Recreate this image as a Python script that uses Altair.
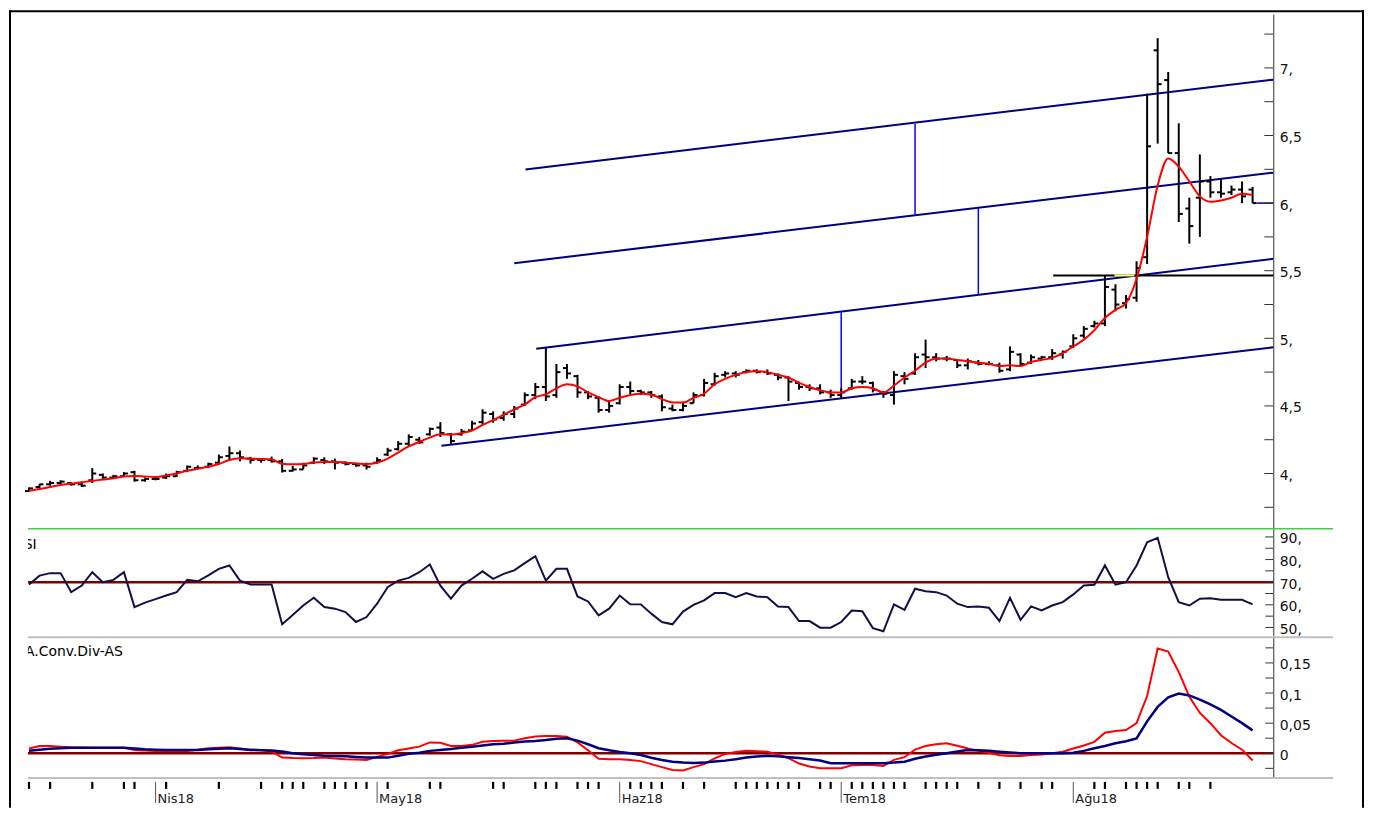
import altair as alt
import pandas as pd

# ---------------- data ----------------
OPEN = [3.87, 3.90, 3.92, 3.93, 3.93, 3.92, 3.95, 3.99, 3.97, 3.98,
        4.01, 3.95, 3.96, 3.97, 3.98, 4.02, 4.04, 4.05, 4.08, 4.13,
        4.15, 4.11, 4.10, 4.10, 4.09, 4.02, 4.03, 4.08, 4.10, 4.09,
        4.08, 4.07, 4.06, 4.08, 4.14, 4.18, 4.22, 4.25, 4.29, 4.34,
        4.29, 4.29, 4.32, 4.38, 4.44, 4.41, 4.44, 4.51, 4.58, 4.64,
        4.58, 4.78, 4.72, 4.60, 4.56, 4.47, 4.52, 4.64, 4.61, 4.60,
        4.57, 4.48, 4.47, 4.52, 4.58, 4.66, 4.73, 4.74, 4.75, 4.76,
        4.75, 4.73, 4.71, 4.67, 4.64, 4.63, 4.60, 4.58, 4.63, 4.68,
        4.67, 4.60, 4.58, 4.72, 4.74, 4.88, 4.86, 4.85, 4.84, 4.80,
        4.82, 4.81, 4.80, 4.77, 4.88, 4.82, 4.85, 4.86, 4.88, 4.94,
        5.02, 5.09, 5.11, 5.36, 5.26, 5.30, 5.60, 7.13, 6.91, 6.37,
        5.96, 6.04, 6.16, 6.08, 6.08, 6.10, 6.10]
HIGH = [3.897, 3.924, 3.946, 3.95, 3.935, 3.94, 4.04, 4.00, 3.99, 4.01,
        4.02, 3.97, 3.98, 4.00, 4.02, 4.06, 4.06, 4.08, 4.14, 4.20,
        4.17, 4.123, 4.11, 4.125, 4.108, 4.057, 4.08, 4.12, 4.12, 4.11,
        4.09, 4.08, 4.08, 4.12, 4.19, 4.24, 4.29, 4.27, 4.34, 4.38,
        4.30, 4.33, 4.39, 4.475, 4.46, 4.46, 4.50, 4.60, 4.67, 4.93,
        4.81, 4.81, 4.73, 4.61, 4.57, 4.536, 4.66, 4.68, 4.62, 4.61,
        4.585, 4.51, 4.53, 4.60, 4.70, 4.745, 4.757, 4.757, 4.77, 4.77,
        4.77, 4.74, 4.72, 4.68, 4.66, 4.66, 4.62, 4.63, 4.70, 4.72,
        4.68, 4.61, 4.757, 4.75, 4.89, 4.99, 4.89, 4.87, 4.84, 4.85,
        4.84, 4.83, 4.82, 4.94, 4.89, 4.88, 4.87, 4.92, 4.91, 5.03,
        5.09, 5.13, 5.46, 5.40, 5.32, 5.57, 6.81, 7.22, 6.97, 6.59,
        6.04, 6.36, 6.20, 6.18, 6.13, 6.16, 6.12]
LOW = [3.867, 3.894, 3.91, 3.92, 3.91, 3.90, 3.93, 3.96, 3.965, 3.975,
       3.94, 3.94, 3.95, 3.96, 3.975, 4.01, 4.03, 4.04, 4.07, 4.10,
       4.09, 4.074, 4.08, 4.08, 4.007, 4.015, 4.03, 4.07, 4.07, 4.03,
       4.06, 4.05, 4.03, 4.07, 4.13, 4.17, 4.20, 4.22, 4.28, 4.27,
       4.22, 4.28, 4.315, 4.36, 4.376, 4.39, 4.41, 4.50, 4.55, 4.536,
       4.56, 4.70, 4.56, 4.55, 4.45, 4.45, 4.51, 4.585, 4.58, 4.56,
       4.46, 4.46, 4.46, 4.52, 4.57, 4.65, 4.71, 4.71, 4.74, 4.74,
       4.73, 4.69, 4.536, 4.62, 4.61, 4.585, 4.56, 4.56, 4.62, 4.66,
       4.60, 4.56, 4.51, 4.66, 4.73, 4.78, 4.83, 4.83, 4.78, 4.77,
       4.80, 4.80, 4.745, 4.757, 4.79, 4.81, 4.84, 4.84, 4.85, 4.93,
       5.00, 5.08, 5.09, 5.20, 5.22, 5.27, 5.55, 6.44, 6.37, 5.86,
       5.70, 5.75, 6.04, 6.04, 6.06, 6.00, 6.00]
CLOSE = [3.89, 3.92, 3.93, 3.94, 3.92, 3.91, 4.00, 3.97, 3.98, 4.00,
         3.95, 3.96, 3.96, 3.98, 4.01, 4.05, 4.04, 4.07, 4.12, 4.15,
         4.12, 4.10, 4.10, 4.09, 4.02, 4.03, 4.06, 4.11, 4.09, 4.08,
         4.07, 4.06, 4.05, 4.10, 4.17, 4.22, 4.27, 4.23, 4.33, 4.30,
         4.24, 4.31, 4.37, 4.45, 4.40, 4.44, 4.48, 4.58, 4.64, 4.57,
         4.75, 4.74, 4.60, 4.57, 4.47, 4.50, 4.64, 4.61, 4.60, 4.58,
         4.49, 4.47, 4.50, 4.58, 4.67, 4.72, 4.74, 4.73, 4.76, 4.75,
         4.74, 4.71, 4.68, 4.64, 4.63, 4.60, 4.58, 4.60, 4.68, 4.68,
         4.62, 4.59, 4.73, 4.70, 4.86, 4.86, 4.85, 4.85, 4.80, 4.83,
         4.81, 4.81, 4.76, 4.90, 4.81, 4.86, 4.86, 4.89, 4.90, 5.00,
         5.07, 5.11, 5.38, 5.25, 5.29, 5.52, 6.42, 6.88, 6.37, 5.92,
         5.83, 6.16, 6.08, 6.07, 6.10, 6.05, 6.00]
MA = [3.872, 3.885, 3.90, 3.915, 3.925, 3.935, 3.946, 3.955, 3.965, 3.978,
      3.982, 3.978, 3.975, 3.985, 4.00, 4.02, 4.035, 4.05, 4.07, 4.10,
      4.112, 4.11, 4.108, 4.105, 4.072, 4.068, 4.07, 4.082, 4.086, 4.086,
      4.08, 4.075, 4.07, 4.08, 4.11, 4.155, 4.20, 4.235, 4.265, 4.29,
      4.288, 4.298, 4.318, 4.36, 4.395, 4.435, 4.475, 4.51, 4.565, 4.585,
      4.63, 4.66, 4.645, 4.60, 4.565, 4.536, 4.56, 4.58, 4.59, 4.583,
      4.55, 4.526, 4.525, 4.56, 4.59, 4.66, 4.70, 4.73, 4.75, 4.757,
      4.75, 4.73, 4.71, 4.67, 4.64, 4.615, 4.60, 4.60, 4.63, 4.64,
      4.63, 4.60, 4.65, 4.71, 4.76, 4.82, 4.85, 4.85, 4.84, 4.83,
      4.82, 4.81, 4.795, 4.80, 4.795, 4.825, 4.84, 4.855, 4.89, 4.94,
      4.99, 5.06, 5.15, 5.21, 5.26, 5.44, 5.75, 6.13, 6.33, 6.27,
      6.16, 6.05, 6.01, 6.02, 6.04, 6.07, 6.06]
RSI = [69, 72.9, 74, 74, 65.6, 68.5, 74.4, 70, 71, 74.4,
       59, 61, 62.5, 64.1, 65.6, 71, 70.4, 73, 75.9, 77.4,
       70.7, 69, 69, 69, 51.4, 55.5, 59.7, 63.1, 59, 58.3,
       56.8, 52.4, 54.6, 60.5, 67.8, 70.7, 71.9, 74.4, 77.8, 68.5,
       62.7, 68.5, 71.5, 74.8, 71.5, 73.7, 75.2, 78.4, 81.5, 70.7,
       75.9, 75.9, 63.7, 61.5, 55.3, 58.3, 64.1, 60.2, 60.2, 56.1,
       52.4, 51.4, 57.0, 60.0, 62.0, 65.2, 65.2, 63.4, 65.2, 63.7,
       63.4, 59.3, 59.0, 52.8, 52.8, 49.9, 49.9, 52.4, 57.5, 57.2,
       49.7, 48.3, 60.2, 57.8, 67.1, 66.0, 65.6, 64.1, 60.5, 59.0,
       59.3, 58.7, 52.8, 63.1, 53.4, 59.3, 57.5, 59.7, 61.2, 64.6,
       68.5, 68.9, 77.4, 68.9, 70, 77.4, 87.6, 89.6, 72.2, 61.2,
       59.7, 62.7, 62.9, 62.2, 62.2, 62.2, 60.2]
MACD = [0.008, 0.012, 0.012, 0.011, 0.010, 0.0095, 0.0093, 0.0093, 0.0093, 0.0093,
        0.0055, 0.0045, 0.0038, 0.0038, 0.0038, 0.0038, 0.006, 0.0083, 0.009, 0.010,
        0.008, 0.006, 0.0055, 0.003, -0.007, -0.008, -0.0083, -0.008, -0.0072, -0.0085,
        -0.010, -0.0105, -0.011, -0.006, -0.001, 0.005, 0.008, 0.011, 0.018, 0.0176,
        0.012, 0.012, 0.014, 0.019, 0.0205, 0.0207, 0.021, 0.025, 0.0278, 0.0285,
        0.0287, 0.0275, 0.018, 0.005, -0.009, -0.010, -0.010, -0.011, -0.013, -0.018,
        -0.023, -0.0276, -0.0285, -0.023, -0.018, -0.0085, -0.001, 0.002, 0.004, 0.0035,
        0.0027, -0.002, -0.008, -0.017, -0.022, -0.0248, -0.0248, -0.0248, -0.020, -0.0194,
        -0.0194, -0.021, -0.011, -0.0065, 0.006, 0.012, 0.015, 0.0166, 0.0125, 0.008,
        0.004, 0.001, -0.0035, -0.0045, -0.0045, -0.003, -0.002, 0.0, 0.0027, 0.008,
        0.013, 0.019, 0.034, 0.037, 0.0386, 0.050, 0.095, 0.174, 0.169, 0.135,
        0.094, 0.067, 0.050, 0.030, 0.017, 0.006, -0.012]
SIGNAL = [0.0043, 0.006, 0.0075, 0.0083, 0.009, 0.0093, 0.0093, 0.0093, 0.0093, 0.0093,
          0.008, 0.0066, 0.006, 0.0055, 0.0055, 0.0055, 0.0055, 0.0065, 0.0075, 0.0083,
          0.007, 0.0055, 0.005, 0.0045, 0.003, 0.0, -0.0017, -0.003, -0.004, -0.0045,
          -0.005, -0.006, -0.0072, -0.0072, -0.0072, -0.004, -0.001, 0.001, 0.004, 0.0055,
          0.007, 0.009, 0.011, 0.013, 0.0149, 0.016, 0.018, 0.0195, 0.0204, 0.022,
          0.024, 0.0248, 0.021, 0.015, 0.0083, 0.005, 0.002, 0.0, -0.003, -0.0075,
          -0.011, -0.014, -0.0155, -0.016, -0.0155, -0.0135, -0.0122, -0.010, -0.007, -0.0055,
          -0.004, -0.005, -0.0066, -0.008, -0.010, -0.012, -0.0166, -0.0166, -0.0166, -0.0166,
          -0.0166, -0.0166, -0.0155, -0.0139, -0.009, -0.0055, -0.0025, 0.0, 0.003, 0.0055,
          0.005, 0.004, 0.0027, 0.0015, 0.0, 0.0, 0.0, 0.0, 0.0, 0.001,
          0.004, 0.0083, 0.012, 0.0166, 0.020, 0.0248, 0.053, 0.077, 0.093, 0.099,
          0.096, 0.089, 0.081, 0.072, 0.061, 0.050, 0.038]

MONTH_IDX = [12, 33, 56, 77, 99]
MONTH_LABELS = ["Nis18", "May18", "Haz18", "Tem18", "Ağu18"]
DAY_TICKS = [0, 2, 6, 9, 10, 13, 18, 22, 24, 25, 26, 28, 29, 30, 31, 32, 34, 38, 39,
             44, 45, 48, 49, 50, 52, 53, 54, 57, 58, 59, 60, 62, 64, 67, 68, 69, 70,
             71, 72, 73, 75, 76, 78, 79, 80, 81, 82, 83, 85, 86, 87, 88, 90, 92, 94,
             96, 97, 101, 102, 104, 105, 106, 107, 109, 110, 112]

# channel lines (start bar, start value, end bar, end value)
CH_I0 = [47.07, 46.0, 48.08, 39.1]
CH_V0 = [6.249, 5.556, 4.922, 4.205]
CH_I1 = [117.96, 117.96, 117.96, 117.96]
CH_V1 = [6.913, 6.225, 5.588, 4.934]
# vertical connectors
CONN_I = [84, 90, 77]
CONN_TOP = [6.585, 5.965, 5.20]
CONN_BOT = [5.915, 5.323, 4.56]
# horizontal resistance line
HL_I0, HL_I1, HL_V = 97.1, 117.96, 5.465
YEL_I0, YEL_I1 = 102.9, 104.8
LAST_I0, LAST_V = 116.4, 6.0

PRICE_LABELS = [4, 4.5, 5, 5.5, 6, 6.5, 7]
PRICE_TICKS = [3.75, 4, 4.25, 4.5, 4.75, 5, 5.25, 5.5, 5.75, 6, 6.25, 6.5, 6.75, 7, 7.25]
RSI_LABELS = [50, 60, 70, 80, 90]
RSI_TICKS = [50, 55, 60, 65, 70, 75, 80, 85, 90]
MACD_LABELS = [0, 0.05, 0.1, 0.15]
MACD_TICKS = [-0.025, 0, 0.025, 0.05, 0.075, 0.1, 0.125, 0.15, 0.175]

# ---------------- layout ----------------
W = 1249
H = 766
P_RANGE, P_DOM = [516, 0], [3.5922, 7.3975]
R_RANGE, R_DOM = [625, 516], [45.64, 93.656]
M_RANGE, M_DOM = [766, 625], [-0.0409, 0.1925]
X_DOM = [-0.1, 117.96]
FONT = "DejaVu Sans"

N = len(CLOSE)
bars = pd.DataFrame({"i": list(range(N)), "open": OPEN, "high": HIGH, "low": LOW,
                     "close": CLOSE, "ma": MA, "rsi": RSI, "macd": MACD, "signal": SIGNAL})
one = pd.DataFrame({"a": [0]})


def X(f):
    return alt.X(f, type="quantitative",
                 scale=alt.Scale(domain=X_DOM, nice=False, zero=False), axis=None)


def make_axis(values, expr):
    return alt.Axis(orient="right", values=values, labelExpr=expr, ticks=False, tickSize=0,
                    domain=True, domainColor="#333333", domainWidth=1, grid=False,
                    labelPadding=6, labelOffset=2, labelFont=FONT, labelFontSize=14,
                    labelColor="#111111", labelOverlap=False, title=None)


P_AXIS = make_axis(PRICE_LABELS,
                   "datum.value % 1 == 0 ? format(datum.value, 'd') + ',' : replace(format(datum.value, '.1f'), '.', ',')")
R_AXIS = make_axis(RSI_LABELS, "format(datum.value, 'd') + ','")
M_AXIS = make_axis(MACD_LABELS,
                   "datum.value == 0 ? '0' : replace(format(datum.value, '.2~f'), '.', ',')")


def YP(f):
    return alt.Y(f, type="quantitative",
                 scale=alt.Scale(domain=P_DOM, range=P_RANGE, nice=False, zero=False), axis=P_AXIS)


def YR(f):
    return alt.Y(f, type="quantitative",
                 scale=alt.Scale(domain=R_DOM, range=R_RANGE, nice=False, zero=False), axis=R_AXIS)


def YM(f):
    return alt.Y(f, type="quantitative",
                 scale=alt.Scale(domain=M_DOM, range=M_RANGE, nice=False, zero=False), axis=M_AXIS)


# ---------------- price panel ----------------
ch = pd.DataFrame({"i0": CH_I0, "v0": CH_V0, "i1": CH_I1, "v1": CH_V1})
channels = alt.Chart(ch).mark_rule(color="#000080", strokeWidth=2).encode(
    x=X("i0"), x2="i1", y=YP("v0"), y2="v1")
conn = pd.DataFrame({"i": CONN_I, "top": CONN_TOP, "bot": CONN_BOT})
connectors = alt.Chart(conn).mark_rule(color="#0000FF", strokeWidth=1.5).encode(
    x=X("i"), y=YP("top"), y2="bot")
hl = pd.DataFrame({"i0": [HL_I0], "i1": [HL_I1], "v": [HL_V]})
hline = alt.Chart(hl).mark_rule(color="black", strokeWidth=2).encode(x=X("i0"), x2="i1", y=YP("v"))
yl = pd.DataFrame({"i0": [YEL_I0], "i1": [YEL_I1], "v": [HL_V]})
yline = alt.Chart(yl).mark_rule(color="#FFFF66", strokeWidth=2).encode(x=X("i0"), x2="i1", y=YP("v"))
lp = pd.DataFrame({"i0": [LAST_I0], "i1": [117.96], "v": [LAST_V]})
lastline = alt.Chart(lp).mark_rule(color="#000080", strokeWidth=1.5).encode(x=X("i0"), x2="i1", y=YP("v"))

hl_bars = alt.Chart(bars).mark_rule(color="black", strokeWidth=2).encode(
    x=X("i"), y=YP("low"), y2="high")
open_t = alt.Chart(bars).mark_tick(orient="horizontal", size=4, thickness=2, color="black",
                                   xOffset=-2, opacity=1).encode(x=X("i"), y=YP("open"))
close_t = alt.Chart(bars).mark_tick(orient="horizontal", size=4, thickness=2, color="black",
                                    xOffset=2, opacity=1).encode(x=X("i"), y=YP("close"))
ma_line = alt.Chart(bars).mark_line(color="#FF0000", strokeWidth=2, interpolate="monotone").encode(
    x=X("i"), y=YP("ma"))
pt = pd.DataFrame({"v": PRICE_TICKS})
p_ticks = alt.Chart(pt).mark_rule(color="#333333", strokeWidth=1).encode(
    x=alt.value(W - 9), x2=alt.value(W), y=YP("v"))
green = alt.Chart(one).mark_rule(color="#44CC44", strokeWidth=1.5).encode(
    x=alt.value(0), x2=alt.value(1309), y=alt.value(516))

price = alt.layer(channels, connectors, hline, yline, lastline, hl_bars, open_t, close_t,
                  ma_line, p_ticks, green)

# ---------------- RSI panel ----------------
r70 = alt.Chart(pd.DataFrame({"v": [70]})).mark_rule(color="#800000", strokeWidth=2.5).encode(
    x=alt.value(0), x2=alt.value(W), y=YR("v"))
rsi_line = alt.Chart(bars).mark_line(color="#101048", strokeWidth=2).encode(x=X("i"), y=YR("rsi"))
r_ticks = alt.Chart(pd.DataFrame({"v": RSI_TICKS})).mark_rule(color="#333333", strokeWidth=1).encode(
    x=alt.value(W - 8), x2=alt.value(W), y=YR("v"))
r_title = alt.Chart(pd.DataFrame({"t": ["RSI"]})).mark_text(
    align="left", baseline="top", clip=True, font=FONT, fontSize=14, color="black").encode(
    x=alt.value(-14), y=alt.value(525), text="t:N")
gray1 = alt.Chart(one).mark_rule(color="#C0C0C0", strokeWidth=2).encode(
    x=alt.value(0), x2=alt.value(1309), y=alt.value(625))
rsi = alt.layer(r70, rsi_line, r_ticks, r_title, gray1)

# ---------------- MACD panel ----------------
m0 = alt.Chart(pd.DataFrame({"v": [0]})).mark_rule(color="#800000", strokeWidth=2.5).encode(
    x=alt.value(0), x2=alt.value(W), y=YM("v"))
macd_line = alt.Chart(bars).mark_line(color="#FF0000", strokeWidth=2).encode(x=X("i"), y=YM("macd"))
sig_line = alt.Chart(bars).mark_line(color="#000080", strokeWidth=2.5).encode(x=X("i"), y=YM("signal"))
m_ticks = alt.Chart(pd.DataFrame({"v": MACD_TICKS})).mark_rule(color="#333333", strokeWidth=1).encode(
    x=alt.value(W - 8), x2=alt.value(W), y=YM("v"))
m_title = alt.Chart(pd.DataFrame({"t": ["M.A.Conv.Div-AS"]})).mark_text(
    align="left", baseline="top", clip=True, font=FONT, fontSize=14, color="black").encode(
    x=alt.value(-19.5), y=alt.value(633), text="t:N")
gray2 = alt.Chart(one).mark_rule(color="#C0C0C0", strokeWidth=2).encode(
    x=alt.value(0), x2=alt.value(1309), y=alt.value(766))
macd = alt.layer(m0, macd_line, sig_line, m_ticks, m_title, gray2)

# ---------------- x axis (custom) ----------------
day_t = alt.Chart(pd.DataFrame({"i": DAY_TICKS})).mark_rule(color="black", strokeWidth=2.2).encode(
    x=X("i"), y=alt.value(H + 4), y2=alt.value(H + 11))
mon = pd.DataFrame({"i": MONTH_IDX, "lab": MONTH_LABELS})
mon_t = alt.Chart(mon).mark_rule(color="#555555", strokeWidth=1).encode(
    x=X("i"), y=alt.value(H + 4), y2=alt.value(H + 25))
mon_l = alt.Chart(mon).mark_text(align="left", baseline="alphabetic", dx=2, font=FONT,
                                 fontSize=13, color="#222222").encode(
    x=X("i"), y=alt.value(H + 25), text="lab:N")

# ---------------- outer frame ----------------
fl = alt.Chart(one).mark_rule(color="black", strokeWidth=2, strokeCap="square").encode(
    x=alt.value(-18), y=alt.value(-3), y2=alt.value(795))
fr = alt.Chart(one).mark_rule(color="black", strokeWidth=2, strokeCap="square").encode(
    x=alt.value(1339), y=alt.value(-3), y2=alt.value(795))
ft = alt.Chart(one).mark_rule(color="black", strokeWidth=2, strokeCap="square").encode(
    x=alt.value(-18), x2=alt.value(1339), y=alt.value(-3))

chart = alt.layer(price, rsi, macd, day_t, mon_t, mon_l, fl, fr, ft).resolve_scale(
    y="independent").properties(width=W, height=H, padding=0, background="white").configure_view(
    stroke=None)

chart.save("out.html", embed_options={"renderer": "svg", "actions": False})
